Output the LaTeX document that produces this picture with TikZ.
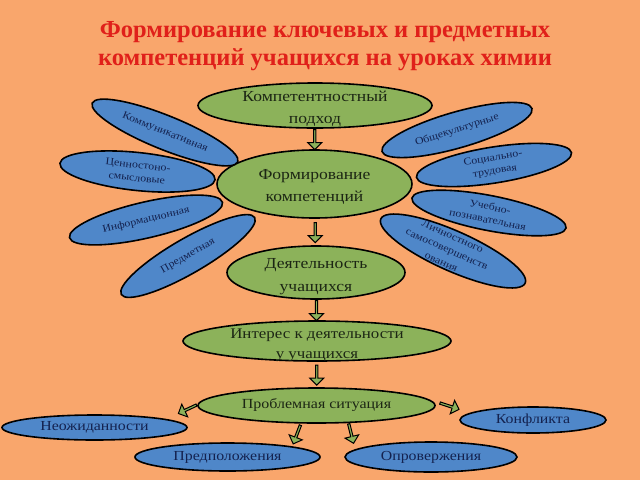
\documentclass[tikz,border=0pt]{standalone}
\usepackage{fontspec}
\setmainfont{Liberation Serif}
\newfontfamily\widefont[FakeStretch=1.15]{Liberation Serif}
\usetikzlibrary{shapes.geometric,shapes.arrows,calc}
\definecolor{bgorange}{HTML}{F9A66C}
\definecolor{gfill}{HTML}{8CB25A}
\definecolor{bfill}{HTML}{4F87C9}
\definecolor{titlered}{HTML}{E0201A}
\definecolor{gtext}{HTML}{1C2614}
\definecolor{btext}{HTML}{14224F}
\tikzset{
  gell/.style={ellipse, draw=black, line width=1.6pt, fill=gfill, inner sep=0pt},
  bell/.style={ellipse, draw=black, line width=1.6pt, fill=bfill, inner sep=0pt},
  gtxt/.style={text=gtext, inner sep=0pt, align=center},
  btxt/.style={text=btext, inner sep=0pt, align=center},
  sm/.style={font=\widefont\fontsize{10.3}{13}\selectfont},
  bt/.style={font=\widefont\fontsize{13.8}{18}\selectfont},
  md/.style={font=\widefont\fontsize{14.7}{20}\selectfont},
  lg/.style={font=\widefont\fontsize{15.3}{22.5}\selectfont},
  blockarrow/.style={single arrow, draw=black, line width=1pt, fill=gfill, minimum height=20pt, minimum width=14pt, single arrow head extend=2.5pt, inner sep=0pt}
}
\begin{document}
\begin{tikzpicture}[x=1pt,y=-1pt]
\fill[bgorange] (0,0) rectangle (640,480);
\useasboundingbox (0,0) rectangle (640,480);
% title
\node[font=\fontsize{24.5}{28}\selectfont\bfseries, text=titlered, align=center, inner sep=0pt] (title) at (325,46)
  {Формирование ключевых и предметных\\компетенций учащихся на уроках химии};
% green chain
\node[gell, minimum width=234pt, minimum height=45pt] (kp) at (315,105.5) {};
\node[gtxt, lg] (kpt) at ($(kp.center)+(0,3)$) {Компетентностный\\подход};
\node[gell, minimum width=195pt, minimum height=68pt] (fk) at (314.5,184) {};
\node[gtxt, lg] (fkt) at ($(fk.center)+(0,3)$) {Формирование\\компетенций};
\node[gell, minimum width=178pt, minimum height=53pt] (du) at (316,272.5) {};
\node[gtxt, lg] (dut) at ($(du.center)+(0,4)$) {Деятельность\\учащихся};
\node[gell, minimum width=268pt, minimum height=40pt] (id) at (317,341) {};
\node[gtxt, md] (idt) at ($(id.center)+(0,4)$) {Интерес к деятельности\\у учащихся};
\node[gell, minimum width=237pt, minimum height=35pt] (ps) at (316.5,405.5) {};
\node[gtxt, md, font=\widefont\fontsize{13.9}{18}\selectfont] (pst) at (ps.center) {Проблемная ситуация};
% left petals
\node[bell, minimum width=157pt, minimum height=34pt, rotate=-22] (kom) at (165,132.5) {};
\node[btxt, sm, rotate=-22] (komt) at (kom.center) {Коммуникативная};
\node[bell, minimum width=156pt, minimum height=38pt, rotate=-6] (cen) at (137.5,171.5) {};
\node[btxt, sm, rotate=-6] (cent) at (cen.center) {Ценностоно-\\смысловые};
\node[bell, minimum width=157pt, minimum height=36pt, rotate=13] (inf) at (146,220) {};
\node[btxt, sm, rotate=13] (inft) at (inf.center) {Информационная};
\node[bell, minimum width=154pt, minimum height=35pt, rotate=30] (pred) at (188,256) {};
\node[btxt, sm, rotate=30] (predt) at (pred.center) {Предметная};
% right petals
\node[bell, minimum width=156pt, minimum height=36pt, rotate=16] (obs) at (457,130) {};
\node[btxt, sm, rotate=18] (obst) at (obs.center) {Общекультурные};
\node[bell, minimum width=157pt, minimum height=36pt, rotate=9] (soc) at (494,165) {};
\node[btxt, sm, rotate=9] (soct) at (soc.center) {Социально-\\трудовая};
\node[bell, minimum width=157pt, minimum height=35pt, rotate=-11] (ucheb) at (489,213) {};
\node[btxt, sm, rotate=-11] (uchebt) at (ucheb.center) {Учебно-\\познавательная};
\node[bell, minimum width=158pt, minimum height=40pt, rotate=-24] (lich) at (453,251) {};
\node[btxt, sm, rotate=-24, font=\widefont\fontsize{10.3}{14}\selectfont] (licht) at ($(lich.center)+(-6,-2)$) {Личностного\\самосовершенств\\ования};
% bottom blue
\node[bell, minimum width=185pt, minimum height=25pt] (neo) at (94.5,427.5) {};
\node[btxt, bt] (neot) at (neo.center) {Неожиданности};
\node[bell, minimum width=185pt, minimum height=28pt] (prp) at (227.5,457) {};
\node[btxt, bt] (prpt) at (prp.center) {Предположения};
\node[bell, minimum width=172pt, minimum height=30pt] (opr) at (431,457) {};
\node[btxt, bt] (oprt) at (opr.center) {Опровержения};
\node[bell, minimum width=146pt, minimum height=26pt] (konf) at (533,420) {};
\node[btxt, bt] (konft) at (konf.center) {Конфликта};
% block arrows
\node[blockarrow, rotate=-90] (a1) at ($(kp.south)!0.5!(fk.north)$) {};
\node[blockarrow, rotate=-90] (a2) at ($(fk.south)!0.5!(du.north)$) {};
\node[blockarrow, rotate=-90] (a3) at ($(du.south)!0.5!(id.north)$) {};
\node[blockarrow, rotate=-90] (a4) at ($(id.south)!0.5!(ps.north)$) {};
\node[blockarrow, rotate=205] (a5) at (188,409) {};
\node[blockarrow, rotate=-18] (a6) at (449,406) {};
\node[blockarrow, rotate=249] (a7) at (297,434) {};
\node[blockarrow, rotate=-76] (a8) at (351,433) {};
\end{tikzpicture}
\end{document}
